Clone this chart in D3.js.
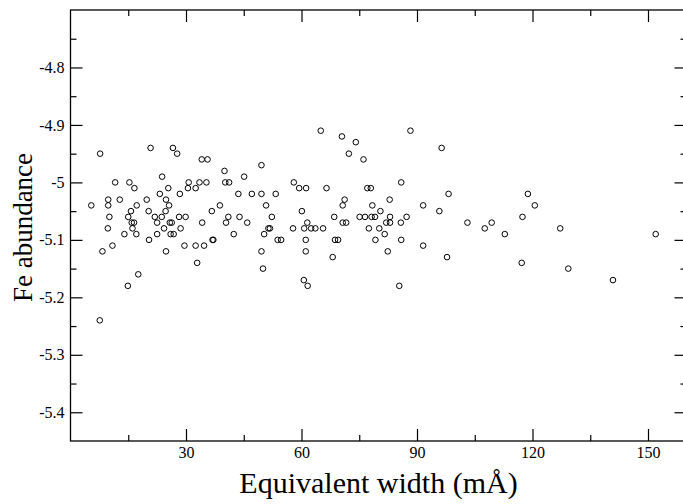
<!DOCTYPE html>
<html>
<head>
<meta charset="utf-8">
<script src="https://cdn.jsdelivr.net/npm/d3@7"></script>
<style>
  html, body { margin: 0; padding: 0; background: #fff; }
  svg { display: block; }
  text { font-family: "Liberation Serif", "Times New Roman", serif; fill: #000; }
</style>
</head>
<body>
<svg id="chart" width="683" height="504"></svg>
<script>
// Equivalent width (mÅ)
const equivalentWidth = [
  7.7, 20.8, 26.6, 27.7, 34.1, 35.6, 23.8, 11.6, 15.3, 16.6,
  30.7, 33.5, 35.3, 30.5, 32.5, 25.4, 23.2, 28.4, 9.8, 12.8,
  19.8, 24.8, 5.4, 9.8, 17.2, 25.6, 38.8, 15.7, 20.3, 24.7,
  36.7, 10.1, 15.0, 21.9, 23.7, 28.2, 29.9, 15.9, 16.5, 22.5,
  25.8, 26.3, 34.2, 9.7, 16.1, 24.3, 28.6, 14.0, 17.1, 22.5,
  26.0, 26.8, 20.4, 36.9, 37.1, 8.3, 10.9, 24.8, 29.6, 32.5,
  34.7, 32.9, 17.6, 14.9, 7.6,
  65.0, 70.5, 74.1, 72.3, 49.6, 40.0, 40.2, 41.2, 45.1, 58.0,
  59.4, 61.2, 66.5, 43.6, 47.1, 49.6, 53.3, 71.2, 70.7, 50.8,
  60.1, 41.0, 43.9, 52.3, 68.5, 75.1, 40.4, 45.9, 61.5, 70.7,
  71.6, 51.4, 51.8, 57.8, 60.7, 62.5, 63.6, 65.6, 42.4, 50.3,
  53.8, 54.7, 61.1, 68.7, 69.5, 49.6, 61.1, 68.1, 50.0, 60.6,
  61.6,
  88.3, 76.1, 96.4, 85.9, 77.1, 78.0, 98.2, 82.9, 78.4, 91.6,
  80.5, 95.8, 76.5, 78.2, 79.1, 83.0, 87.3, 82.0, 83.0, 85.8,
  103.1, 109.4, 107.6, 77.5, 80.2, 81.6, 79.2, 85.9, 91.6, 82.4,
  97.8, 85.4, 118.8, 120.6, 117.4, 112.8, 127.2, 152.0, 117.2, 129.3,
  140.9
];
// Fe abundance
const feAbundance = [
  -4.95, -4.94, -4.94, -4.95, -4.96, -4.96, -4.99, -5.00, -5.00, -5.01,
  -5.00, -5.00, -5.00, -5.01, -5.01, -5.01, -5.02, -5.02, -5.03, -5.03,
  -5.03, -5.03, -5.04, -5.04, -5.04, -5.04, -5.04, -5.05, -5.05, -5.05,
  -5.05, -5.06, -5.06, -5.06, -5.06, -5.06, -5.06, -5.07, -5.07, -5.07,
  -5.07, -5.07, -5.07, -5.08, -5.08, -5.08, -5.08, -5.09, -5.09, -5.09,
  -5.09, -5.09, -5.10, -5.10, -5.10, -5.12, -5.11, -5.12, -5.11, -5.11,
  -5.11, -5.14, -5.16, -5.18, -5.24,
  -4.91, -4.92, -4.93, -4.95, -4.97, -4.98, -5.00, -5.00, -4.99, -5.00,
  -5.01, -5.01, -5.01, -5.02, -5.02, -5.02, -5.02, -5.03, -5.04, -5.04,
  -5.05, -5.06, -5.06, -5.06, -5.06, -5.06, -5.07, -5.07, -5.07, -5.07,
  -5.07, -5.08, -5.08, -5.08, -5.08, -5.08, -5.08, -5.08, -5.09, -5.09,
  -5.10, -5.10, -5.10, -5.10, -5.10, -5.12, -5.12, -5.13, -5.15, -5.17,
  -5.18,
  -4.91, -4.96, -4.94, -5.00, -5.01, -5.01, -5.02, -5.03, -5.04, -5.04,
  -5.05, -5.05, -5.06, -5.06, -5.06, -5.06, -5.06, -5.07, -5.07, -5.07,
  -5.07, -5.07, -5.08, -5.08, -5.08, -5.09, -5.10, -5.10, -5.11, -5.12,
  -5.13, -5.18, -5.02, -5.04, -5.06, -5.09, -5.08, -5.09, -5.14, -5.15,
  -5.17
];
const xMajorTicks = [30, 60, 90, 120, 150];
const xMinorTicks = [15, 45, 75, 105, 135];
const yMajorTicks = [-5.4, -5.3, -5.2, -5.1, -5.0, -4.9, -4.8];
const yMinorTicks = [-5.35, -5.25, -5.15, -5.05, -4.95, -4.85, -4.75];
const yTickLabels = ["-5.4", "-5.3", "-5.2", "-5.1", "-5", "-4.9", "-4.8"];
const xTitle = "Equivalent width (mÅ)";
const yTitle = "Fe abundance";

const serif = "'Liberation Serif', 'Times New Roman', serif";
const svg = d3.select("#chart");
const mLeft = 70.5, mRight = 686.5, mTop = 10, mBottom = 441;
const x = d3.scaleLinear().domain([0, 160]).range([mLeft, mRight]);
const y = d3.scaleLinear().domain([-5.45, -4.7]).range([mBottom, mTop]);
const majorLen = 12, minorLen = 6;

// points
svg.append("g").selectAll("circle")
  .data(equivalentWidth.map((w, i) => [w, feAbundance[i]]))
  .join("circle")
  .attr("cx", d => x(d[0]))
  .attr("cy", d => y(d[1]))
  .attr("r", 2.8)
  .attr("fill", "none")
  .attr("stroke", "#000")
  .attr("stroke-width", 1);

const tickStyle = g => g.call(s => s.select(".domain").remove())
  .call(s => s.selectAll("line").attr("stroke", "#000").attr("stroke-width", 1.2));
const labelStyle = g => g.attr("font-family", null).selectAll("text")
  .style("font-family", serif).style("font-size", "16px");

// bottom axis (ticks inside)
svg.append("g").attr("transform", `translate(0,${mBottom})`)
  .call(d3.axisBottom(x).tickValues(xMajorTicks).tickSizeInner(-majorLen).tickSizeOuter(0).tickPadding(6).tickFormat(d3.format("d")))
  .call(tickStyle)
  .call(labelStyle);
svg.append("g").attr("transform", `translate(0,${mBottom})`)
  .call(d3.axisBottom(x).tickValues(xMinorTicks).tickSizeInner(-minorLen).tickSizeOuter(0).tickFormat(""))
  .call(tickStyle);
// top axis mirror
svg.append("g").attr("transform", `translate(0,${mTop})`)
  .call(d3.axisTop(x).tickValues(xMajorTicks).tickSizeInner(-majorLen).tickSizeOuter(0).tickFormat(""))
  .call(tickStyle);
svg.append("g").attr("transform", `translate(0,${mTop})`)
  .call(d3.axisTop(x).tickValues(xMinorTicks).tickSizeInner(-minorLen).tickSizeOuter(0).tickFormat(""))
  .call(tickStyle);
// left axis
svg.append("g").attr("transform", `translate(${mLeft},0)`)
  .call(d3.axisLeft(y).tickValues(yMajorTicks).tickSizeInner(-majorLen).tickSizeOuter(0).tickPadding(6)
    .tickFormat((d, i) => yTickLabels[i]))
  .call(tickStyle)
  .call(labelStyle);
svg.append("g").attr("transform", `translate(${mLeft},0)`)
  .call(d3.axisLeft(y).tickValues(yMinorTicks).tickSizeInner(-minorLen).tickSizeOuter(0).tickFormat(""))
  .call(tickStyle);
// right axis mirror
svg.append("g").attr("transform", `translate(${mRight},0)`)
  .call(d3.axisRight(y).tickValues(yMajorTicks).tickSizeInner(-majorLen).tickSizeOuter(0).tickFormat(""))
  .call(tickStyle);
svg.append("g").attr("transform", `translate(${mRight},0)`)
  .call(d3.axisRight(y).tickValues(yMinorTicks).tickSizeInner(-minorLen).tickSizeOuter(0).tickFormat(""))
  .call(tickStyle);

// frame
svg.append("rect")
  .attr("x", mLeft).attr("y", mTop)
  .attr("width", mRight - mLeft).attr("height", mBottom - mTop)
  .attr("fill", "none").attr("stroke", "#000").attr("stroke-width", 1.3);

// titles
svg.append("text")
  .attr("x", (mLeft + mRight) / 2).attr("y", 493)
  .attr("text-anchor", "middle")
  .style("font-family", serif)
  .style("font-size", "30px")
  .text(xTitle);
svg.append("text")
  .attr("transform", `translate(32,${(mTop + mBottom) / 2 + 2}) rotate(-90)`)
  .attr("text-anchor", "middle")
  .style("font-family", serif)
  .style("font-size", "27px")
  .text(yTitle);
</script>
</body>
</html>
